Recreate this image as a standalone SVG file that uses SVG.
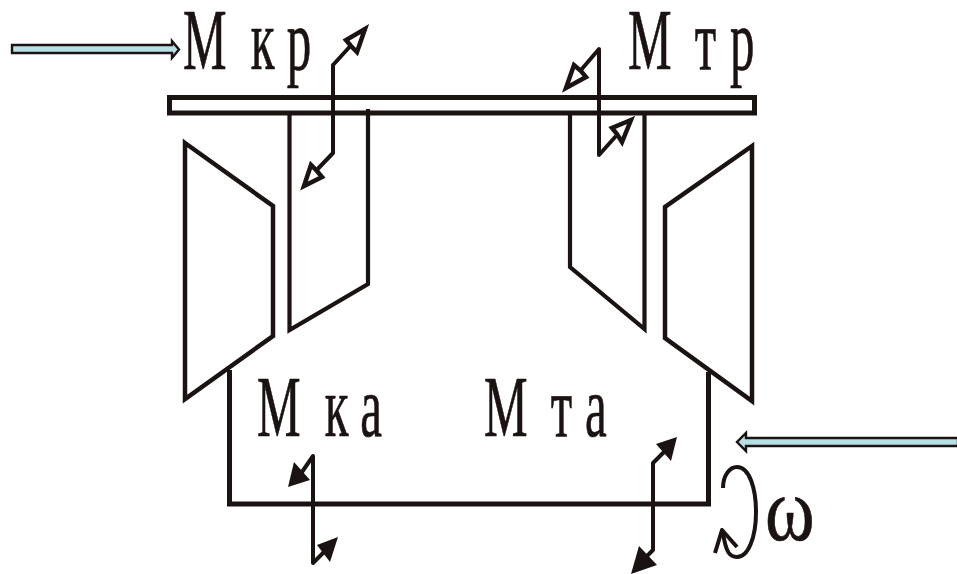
<svg xmlns="http://www.w3.org/2000/svg" width="957" height="574" viewBox="0 0 957 574">
<style>
.s{fill:#fff;stroke:#1a1311;stroke-width:4.500;stroke-linejoin:miter}
.o{fill:none;stroke:#1a1311;stroke-width:4.200;stroke-linejoin:miter}
.k{fill:none;stroke:#1a1311;stroke-width:5;stroke-linejoin:miter}
.l{fill:none;stroke:#1a1311;stroke-width:4;stroke-linejoin:round}
.h{fill:#1a1311;stroke:none}
.w{fill:#fff;stroke:#1a1311;stroke-width:4.500;stroke-linejoin:miter}
.b{fill:#b7e0e4;stroke:#1a1311;stroke-width:2.400;stroke-linejoin:miter}
text{font-family:"Liberation Serif","Times New Roman",serif;font-size:86px;fill:#1a1311;stroke:#1a1311;stroke-width:.7px}
</style>
<rect width="957" height="574" fill="#fff"/>
<g id="body">
<path class="k" d="M229.500 370V504H708.500V372"/>
</g>
<g id="left-pad">
<path class="s" d="M185 143L273 206V336L185 399Z"/>
</g>
<g id="left-rotor">
<path class="o" d="M289.500 113V330L368 284V109"/>
</g>
<g id="right-rotor">
<path class="o" d="M570 113V267L644.500 329V113"/>
</g>
<g id="right-pad">
<path class="s" d="M752 146L665 207V338L752 401Z"/>
</g>
<g id="bar">
<rect class="k" x="169.500" y="97.500" width="585" height="15.500"/>
</g>
<g id="connectors">
<path class="b" d="M12 45H172V41L179 49.500L172 58V53H12Z"/>
<path class="b" d="M958 438H746V433L737 442L746 451V446H958Z"/>
<path class="l" d="M355 41L333 65V153L311 176"/>
<path class="w" d="M365 29L346 40L351 46L357 52Z"/>
<path class="w" d="M304 186L311 165L317 171L322 177Z"/>
<path class="l" d="M581 70L599 49V155L616 136"/>
<path class="w" d="M566 88L574 65L581 71L586 77Z"/>
<path class="w" d="M631 120L612 128L617 134L622 142Z"/>
<path class="l" d="M302 472L313 456V563L326 550"/>
<path class="h" d="M288 487L294 462L310 480Z"/>
<path class="h" d="M338 537L317 545L330 562Z"/>
<path class="l" d="M664 452L653 463V550L645 558"/>
<path class="h" d="M677 437L656 444L671 461Z"/>
<path class="h" d="M631 574L639 546L657 565Z"/>
<path class="l" d="M723 488C723 475 730 467 737 467C750 467 756 490 756 512C756 538 748 557 737 557C730 557 726 553 723 533"/>
<path class="l" d="M715 553L722 530L737 547"/>
</g>
<g id="label-mkr"><text transform="translate(183 69) scale(.57 1)"><tspan x="0">М</tspan><tspan x="119">к</tspan><tspan x="182">р</tspan></text></g>
<g id="label-mtr"><text transform="translate(628 69) scale(.57 1)"><tspan x="0">М</tspan><tspan x="117">т</tspan><tspan x="179">р</tspan></text></g>
<g id="label-mka"><text transform="translate(257 436) scale(.57 1)"><tspan x="0">М</tspan><tspan x="119">к</tspan><tspan x="181">а</tspan></text></g>
<g id="label-mta"><text transform="translate(484 436) scale(.57 1)"><tspan x="0">М</tspan><tspan x="117">т</tspan><tspan x="177">а</tspan></text></g>
<g id="label-omega"><text transform="translate(765 540) scale(.82 1)" style="font-size:92px">ω</text></g>
</svg>
